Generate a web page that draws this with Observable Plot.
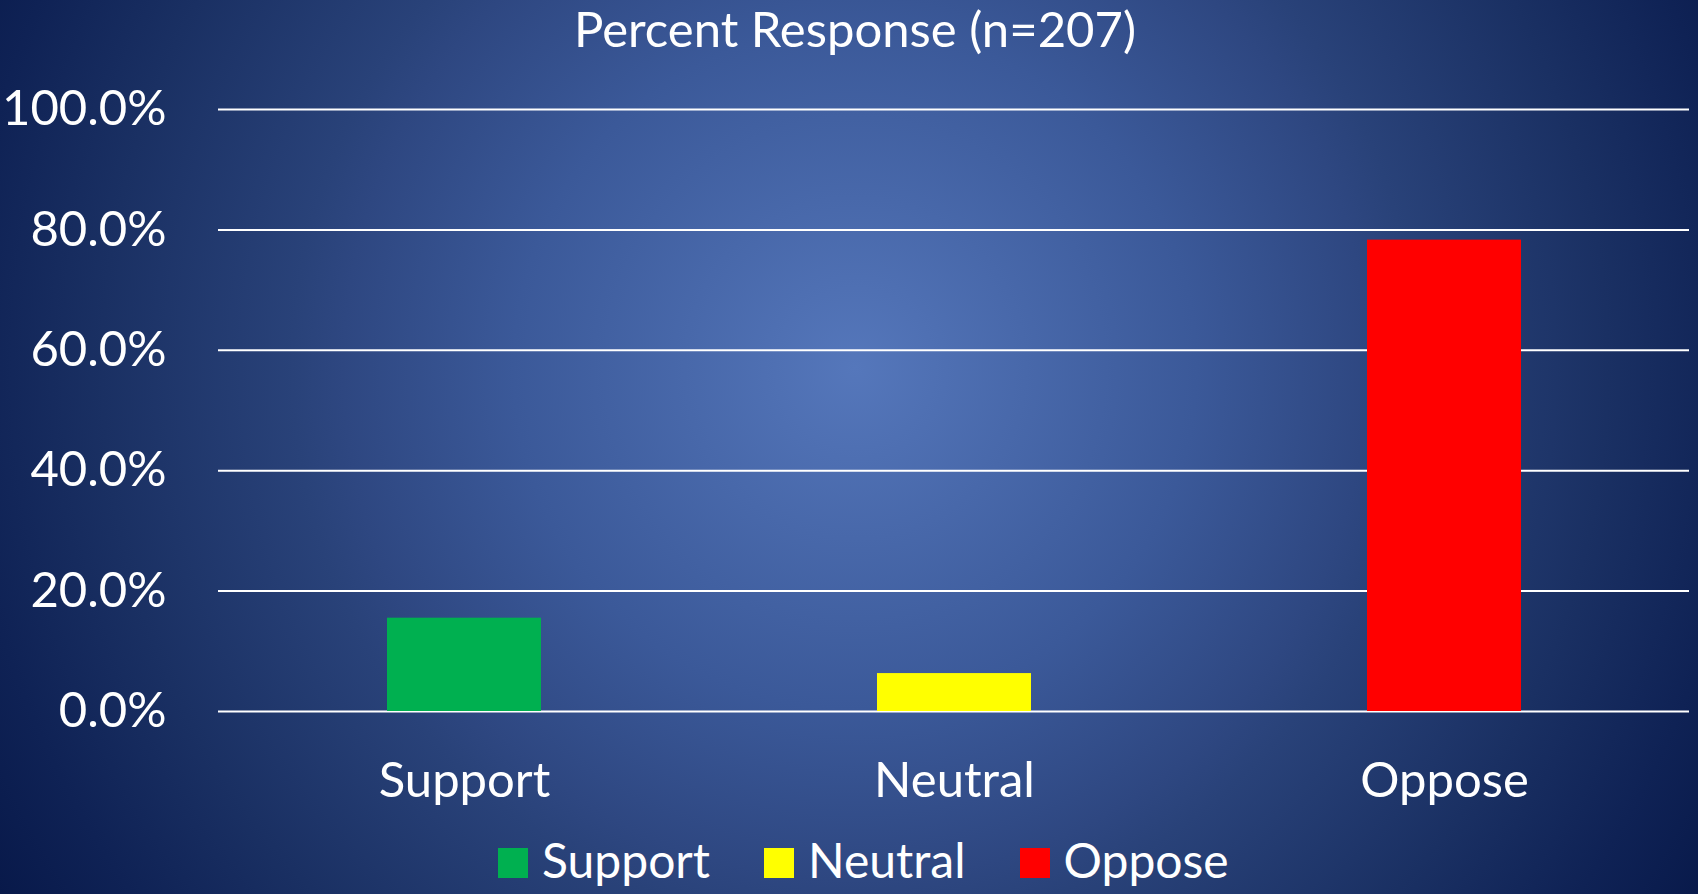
<!DOCTYPE html>
<html>
<head>
<meta charset="utf-8">
<script src="https://cdn.jsdelivr.net/npm/d3@7"></script>
<script src="https://cdn.jsdelivr.net/npm/@observablehq/plot@0.6"></script>
<style>
  html, body { margin: 0; padding: 0; }
  body { width: 1698px; height: 894px; overflow: hidden; font-family: Lato, "Open Sans", sans-serif; color: white; }
  #frame {
    position: relative; width: 1698px; height: 894px; overflow: hidden;
    background: radial-gradient(circle farthest-corner at 855px 368px,
      #5577bb 0%, #3b5999 34%, #2e4781 51%, #294279 56%, #1a3063 75%, #0f2255 89%, #08194a 100%);
  }
  #title { position: absolute; left: 0; width: 1710px; top: 0; height: 60px; text-align: center;
    font-size: 49px; line-height: 56px; }
  #chart { position: absolute; left: 0; top: 60px; }
  #legend { position: absolute; left: 498px; top: 834px; display: flex; align-items: center; font-size: 48px; line-height: 52px; }
  .item { display: flex; align-items: center; margin-right: 54px; }
  .sw { width: 30px; height: 30px; margin-right: 14px; margin-top: 6px; }
</style>
</head>
<body>
<div id="frame">
  <div id="title">Percent Response (n=207)</div>
  <div id="chart"></div>
  <div id="legend"></div>
</div>
<script>
const categories = ["Support", "Neutral", "Oppose"];
const values = [0.155, 0.063, 0.783];
const colors = ["#00b050", "#ffff00", "#ff0000"];
const yTicks = [0, 0.2, 0.4, 0.6, 0.8, 1.0];

const data = categories.map((c, i) => ({category: c, value: values[i]}));

const chart = Plot.plot({
  width: 1698,
  height: 780,
  marginLeft: 218,
  marginRight: 9,
  marginTop: 49,
  marginBottom: 129,
  style: {background: "transparent", color: "white", fontFamily: "Lato, 'Open Sans', sans-serif", fontSize: "49px", overflow: "visible"},
  x: {domain: categories, paddingInner: 0.686, paddingOuter: 0.343, tickSize: 0, tickPadding: 51, label: null},
  y: {domain: [0, 1], ticks: yTicks, tickFormat: ".1%", tickSize: 0, tickPadding: 52, label: null},
  color: {domain: categories, range: colors},
  marks: [
    Plot.ruleY(yTicks, {stroke: "white", strokeWidth: 2}),
    Plot.barY(data, {x: "category", y: "value", fill: "category"})
  ]
});
document.getElementById("chart").appendChild(chart);

const legend = document.getElementById("legend");
categories.forEach((c, i) => {
  const item = document.createElement("div");
  item.className = "item";
  const sw = document.createElement("div");
  sw.className = "sw";
  sw.style.background = colors[i];
  const t = document.createElement("span");
  t.textContent = c;
  item.appendChild(sw);
  item.appendChild(t);
  legend.appendChild(item);
});
</script>
</body>
</html>
